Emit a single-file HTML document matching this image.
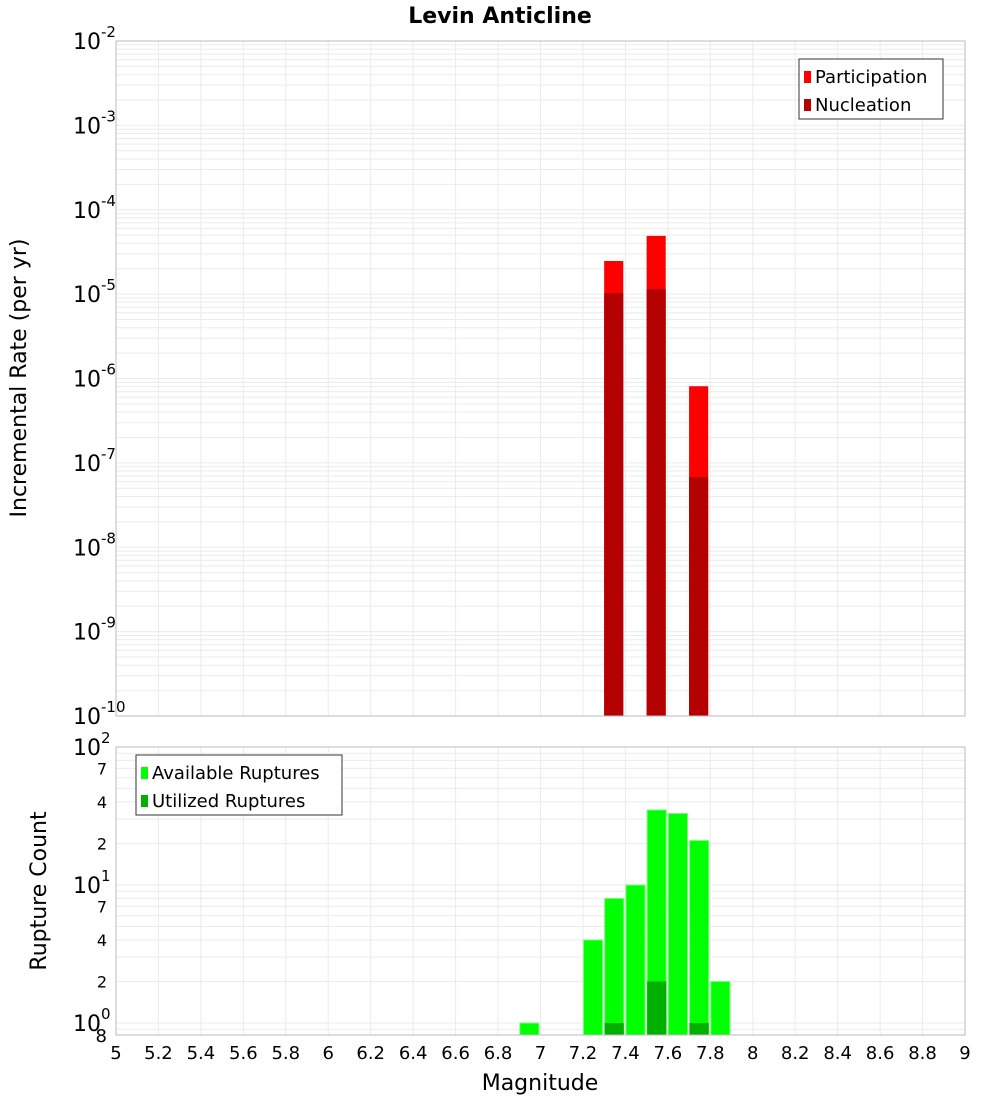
<!DOCTYPE html>
<html><head><meta charset="utf-8"><style>
body{margin:0;background:#fff;font-family:"Liberation Sans","DejaVu Sans",sans-serif}
svg text{font-family:"DejaVu Sans","Liberation Sans",sans-serif}
</style></head><body>
<svg id="c" width="1000" height="1100" xmlns="http://www.w3.org/2000/svg"></svg>
<script>
const topMags=[7.3,7.5,7.7];
const participation=[2.47e-5,4.9e-5,8.1e-7];
const nucleation=[1.03e-5,1.15e-5,6.8e-8];
const botMags=[6.9,7.2,7.3,7.4,7.5,7.6,7.7,7.8];
const available=[1,4,8,10,35,33,21,2];
const utilMags=[7.3,7.5,7.7];
const utilized=[1,2,1];
const xTicks=[5,5.2,5.4,5.6,5.8,6,6.2,6.4,6.6,6.8,7,7.2,7.4,7.6,7.8,8,8.2,8.4,8.6,8.8,9];
const topExps=[-2,-3,-4,-5,-6,-7,-8,-9,-10];
const botMinor=[[7,0],[4,0],[2,0],[7,1],[4,1],[2,1]];

const svg=document.getElementById('c');const NS='http://www.w3.org/2000/svg';
function el(t,a,p){const e=document.createElementNS(NS,t);for(const k in a)e.setAttribute(k,a[k]);(p||svg).appendChild(e);return e;}
const X0=116,X1=965;
const x=m=>X0+(m-5)/4*(X1-X0);
const T0=41,T1=716;
const yT=v=>T0+(-2-Math.log10(v))*(T1-T0)/8;
const B0=747,B1=1035,dec=138;
const yB=v=>1023-Math.log10(v)*dec;

// frames & grids
el('rect',{x:X0,y:T0,width:X1-X0,height:T1-T0,fill:'#fff',stroke:'#bbb'});
el('rect',{x:X0,y:B0,width:X1-X0,height:B1-B0,fill:'#fff',stroke:'#bbb'});
const g=el('g',{stroke:'#ebebeb','stroke-width':1});

for(let e=-10;e<-2;e++)for(let k=1;k<10;k++){const yy=yT(k*Math.pow(10,e));el('line',{x1:X0,x2:X1,y1:yy,y2:yy},g);}
for(let e=-1;e<2;e++)for(let k=1;k<10;k++){const v=k*Math.pow(10,e);const yy=yB(v);if(yy<B0||yy>B1)continue;el('line',{x1:X0,x2:X1,y1:yy,y2:yy},g);}
xTicks.forEach(t=>{el('line',{x1:x(t),x2:x(t),y1:T0,y2:T1},g);el('line',{x1:x(t),x2:x(t),y1:B0,y2:B1},g);});

// top bars
const w=0.09;
topMags.forEach((m,i)=>{
 let r=el('rect',{x:x(m),y:yT(participation[i]),width:x(m+w)-x(m),height:T1-yT(participation[i]),fill:'#ff0000'});
 
 r=el('rect',{x:x(m),y:yT(nucleation[i]),width:x(m+w)-x(m),height:T1-yT(nucleation[i]),fill:'#b40000'});
 
});
botMags.forEach((m,i)=>{
 const r=el('rect',{x:x(m)+0.5,y:yB(available[i]),width:x(m+0.095)-x(m)-1,height:B1-yB(available[i]),fill:'#00ff00',stroke:'#7fff7f','stroke-width':1});
 
});
utilMags.forEach((m,i)=>{
 const r=el('rect',{x:x(m)+0.5,y:yB(utilized[i]),width:x(m+0.095)-x(m)-1,height:B1-yB(utilized[i]),fill:'#00b000'});
 
});
el('rect',{x:X0,y:T0,width:X1-X0,height:T1-T0,fill:'none',stroke:'#bbb'});
el('rect',{x:X0,y:B0,width:X1-X0,height:B1-B0,fill:'none',stroke:'#bbb'});

// labels
function txt(s,a,name){const t=el('text',a);t.textContent=s;return t;}
txt('Levin Anticline',{x:500,y:23,'text-anchor':'middle','font-size':22,'font-weight':'bold'},'chart-title');
topExps.forEach(e=>{const yy=yT(Math.pow(10,e));
 const t=txt('10',{x:101,y:yy+8,'text-anchor':'end','font-size':22},'y-tick-label');
 txt(String(e),{x:101,y:yy-4,'font-size':15},'y-tick-exponent');});
[[2,747],[1,885],[0,1023]].forEach(([e,yy])=>{
 txt('10',{x:101,y:yy+8,'text-anchor':'end','font-size':22},'y2-tick-label');
 txt(String(e),{x:101,y:yy-4,'font-size':15},'y2-tick-exponent');});
botMinor.forEach(([k,e])=>{txt(String(k),{x:107,y:yB(k*Math.pow(10,e))+6,'text-anchor':'end','font-size':16},'y2-minor-label');});
txt('8',{x:107,y:1042,'text-anchor':'end','font-size':18},'y2-minor-label');
xTicks.forEach(t=>txt(String(t),{x:x(t),y:1059,'text-anchor':'middle','font-size':18},'x-tick-label'));
txt('Magnitude',{x:540,y:1090,'text-anchor':'middle','font-size':22},'x-axis-title');
txt('Incremental Rate (per yr)',{x:26,y:378,'text-anchor':'middle','font-size':22,transform:'rotate(-90 26 378)'},'y-axis-title');
txt('Rupture Count',{x:46,y:891,'text-anchor':'middle','font-size':22,transform:'rotate(-90 46 891)'},'y2-axis-title');

// legends
function legend(x0,y0,wd,items,name){
 const gg=el('g',{});
 el('rect',{x:x0,y:y0,width:wd,height:60,fill:'#fff',stroke:'#333'},gg);
 items.forEach(([c,s],i)=>{el('rect',{x:x0+5,y:y0+12+i*28,width:7,height:12,fill:c},gg);
  const t=el('text',{x:x0+16,y:y0+24+i*28,'font-size':18},gg);t.textContent=s;});
}
legend(799,59,144,[['#ff0000','Participation'],['#b40000','Nucleation']],'top-legend');
legend(136,755,206,[['#00ff00','Available Ruptures'],['#00b000','Utilized Ruptures']],'bottom-legend');
</script>
</body></html>
